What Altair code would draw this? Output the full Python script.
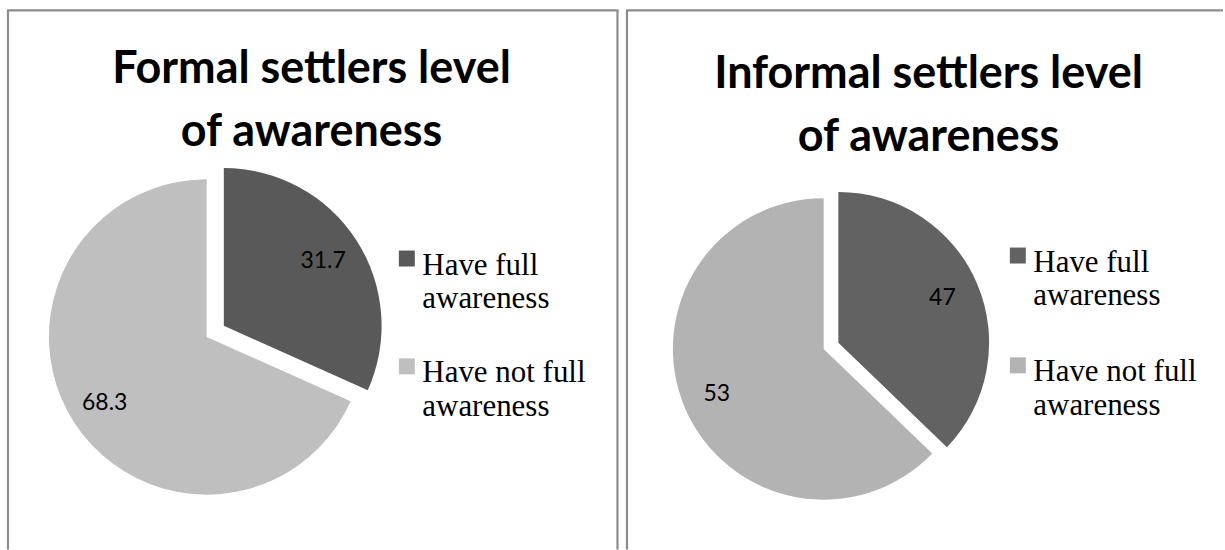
import math
import altair as alt
import pandas as pd

# ---- data ----
categories = ["Have full awareness", "Have not full awareness"]

formal_title = ["Formal settlers level", "of awareness"]
formal_values = [31.7, 68.3]          # slice sizes
formal_labels = ["31.7", "68.3"]      # printed data labels
formal_colors = ["#595959", "#bfbfbf"]

informal_title = ["Informal settlers level", "of awareness"]
informal_values = [37.2, 62.8]        # slice sizes as drawn (angles measured)
informal_labels = ["47", "53"]        # printed data labels
informal_colors = ["#626262", "#b3b3b3"]

BORDER = "#8c8c8c"


def panel(title_lines, values, labels, colors, width, cx, cy, r, explode,
          title_x, title_y, borders, legend_x, legend_y, row_pad):
    df = pd.DataFrame({
        "category": categories,
        "value": values,
        "label": labels,
        "idx": list(range(len(categories))),
    })
    # bisector of the first (exploded) slice, clockwise from 12 o'clock
    ang = 2 * math.pi * (values[0] / 2) / sum(values)
    ex, ey = explode * math.sin(ang), -explode * math.cos(ang)

    base = alt.Chart(df).encode(
        theta=alt.Theta("value:Q", stack=True),
        order=alt.Order("idx:Q"),
    )
    color = alt.Color(
        "category:N",
        scale=alt.Scale(domain=categories, range=colors),
        legend=alt.Legend(
            orient="none", legendX=legend_x, legendY=legend_y, title=None,
            symbolType="square", symbolSize=256, symbolStrokeWidth=0,
            labelFont="Liberation Serif", labelFontSize=31, labelColor="black",
            labelLimit=0, labelOffset=0, labelBaseline="alphabetic",
            labelExpr="[replace(datum.label, ' awareness', ''), 'awareness']",
            rowPadding=row_pad, padding=0, symbolOpacity=1,
        ),
    )
    is_first = alt.datum.category == categories[0]

    rest = base.mark_arc(radius=r, stroke=None).encode(
        color=color,
        x=alt.value(cx), y=alt.value(cy),
        opacity=alt.condition(is_first, alt.value(0), alt.value(1)),
    )
    first = base.mark_arc(radius=r, stroke=None).encode(
        color=alt.Color("category:N", scale=alt.Scale(domain=categories, range=colors), legend=None),
        x=alt.value(cx + ex), y=alt.value(cy + ey),
        opacity=alt.condition(is_first, alt.value(1), alt.value(0)),
    )
    txt_rest = base.mark_text(radius=0.77 * r, font="Lato", fontSize=23, color="black").encode(
        text="label:N",
        x=alt.value(cx), y=alt.value(cy),
        opacity=alt.condition(is_first, alt.value(0), alt.value(1)),
    )
    txt_first = base.mark_text(radius=0.75 * r, font="Lato", fontSize=23, color="black").encode(
        text="label:N",
        x=alt.value(cx + ex), y=alt.value(cy + ey),
        opacity=alt.condition(is_first, alt.value(1), alt.value(0)),
    )
    title = alt.Chart(pd.DataFrame({"t": [0]})).mark_text(
        text=title_lines, font="Lato", fontWeight="bold", fontSize=45,
        lineHeight=63, align="center", baseline="alphabetic", color="black",
    ).encode(x=alt.value(title_x), y=alt.value(title_y))

    bdf = pd.DataFrame({"t": [0]})
    rules = []
    for (x1, y1, x2, y2) in borders:
        rules.append(
            alt.Chart(bdf).mark_rule(color=BORDER, strokeWidth=2.2).encode(
                x=alt.value(x1), y=alt.value(y1), x2=alt.value(x2), y2=alt.value(y2)
            )
        )
    return alt.layer(*rules, rest, first, txt_rest, txt_first, title).properties(
        width=width, height=550
    )


left = panel(
    formal_title, formal_values, formal_labels, formal_colors,
    width=622, cx=207, cy=337, r=158, explode=20.5,
    title_x=312, title_y=83,
    borders=[(8, 10, 8, 550), (7, 10, 619.5, 10), (618.5, 10, 618.5, 550)],
    legend_x=392, legend_y=243, row_pad=36,
)
right = panel(
    informal_title, informal_values, informal_labels, informal_colors,
    width=603, cx=203, cy=349, r=151, explode=16,
    title_x=308, title_y=88,
    borders=[(6, 10, 6, 550), (5, 10, 603, 10)],
    legend_x=382, legend_y=240, row_pad=38,
)

chart = alt.hconcat(left, right, spacing=0).resolve_scale(
    color="independent"
).resolve_legend(color="independent").configure(
    padding=0,
    background="white",
    style={"guide-label": {"lineHeight": 34, "dy": 16}},
).configure_view(stroke=None)

chart.save("out.html", embed_options={"renderer": "svg", "actions": False})
